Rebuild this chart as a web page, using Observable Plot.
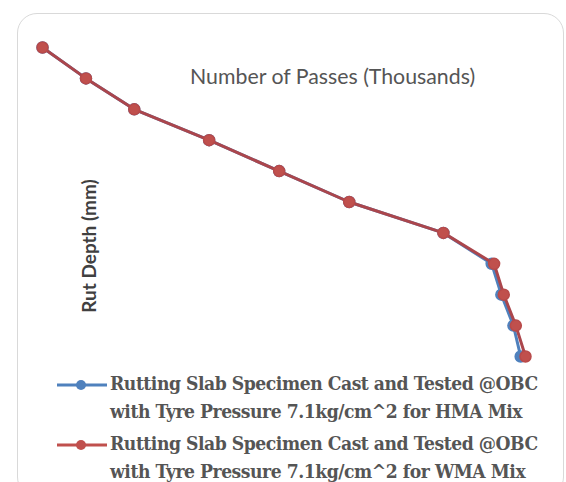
<!DOCTYPE html>
<html>
<head>
<meta charset="utf-8">
<script src="https://cdn.jsdelivr.net/npm/d3@7"></script>
<script src="https://cdn.jsdelivr.net/npm/@observablehq/plot@0.6"></script>
<style>
  html, body { margin: 0; padding: 0; background: #fff; }
  #frame { position: relative; width: 566px; height: 482px; overflow: hidden; }
  #box {
    position: absolute; left: 17px; top: 13px; width: 547px; height: 484px;
    border: 1.5px solid #d9d9d9; border-radius: 20px; box-sizing: border-box;
  }
  #chart { position: absolute; left: 0; top: 0; }
  #xtitle {
    position: absolute; left: 190px; top: 63px;
    font-family: Lato, "Open Sans", sans-serif; font-size: 21.3px; color: #555;
    white-space: nowrap;
  }
  #ytitle {
    position: absolute; left: 88px; top: 246px;
    transform: translate(-50%, -50%) rotate(-90deg);
    font-family: Lato, "Open Sans", sans-serif; font-size: 19px; font-weight: bold; color: #404040;
    white-space: nowrap;
  }
  #legend { position: absolute; left: 56px; top: 370px; }
  .item { display: flex; align-items: flex-start; margin-bottom: 4px; }
  .item svg { flex: none; margin-top: 3px; }
  .item span {
    font-family: "DejaVu Serif", "Liberation Serif", serif; font-size: 18.5px; font-weight: 600;
    color: #555; line-height: 28px; white-space: nowrap; letter-spacing: -0.5px;
    transform: scaleX(0.93); transform-origin: 0 0; display: inline-block;
  }
</style>
</head>
<body>
<div id="frame">
  <div id="box"></div>
  <div id="chart"></div>
  <div id="xtitle">Number of Passes (Thousands)</div>
  <div id="ytitle">Rut Depth (mm)</div>
  <div id="legend"></div>
</div>
<script>
// Rut depth readings (mm) and the cumulative wheel passes (thousands) at which they were reached
const rutDepth = [0, 1, 2, 3, 4, 5, 6, 7, 8, 9, 10];
const passesHMA = [0, 0.9, 1.9, 3.45, 4.9, 6.35, 8.3, 9.3, 9.5, 9.75, 9.9];
const passesWMA = [0, 0.9, 1.9, 3.45, 4.9, 6.35, 8.3, 9.35, 9.55, 9.8, 10.0];

const seriesNames = [
  ["Rutting Slab Specimen Cast and Tested @OBC", "with Tyre Pressure 7.1kg/cm^2 for HMA Mix"],
  ["Rutting Slab Specimen Cast and Tested @OBC", "with Tyre Pressure 7.1kg/cm^2 for WMA Mix"]
];
const seriesColors = ["#4f81bd", "#c0504d"];

const hma = rutDepth.map((d, i) => ({depth: d, passes: passesHMA[i]}));
const wma = rutDepth.map((d, i) => ({depth: d, passes: passesWMA[i]}));

const chart = Plot.plot({
  width: 566,
  height: 372,
  marginLeft: 42,
  marginRight: 41,
  marginTop: 47,
  marginBottom: 16,
  x: {domain: [0, 10], axis: null},
  y: {domain: [0, 10], reverse: true, axis: null},
  marks: [
    Plot.line(hma, {x: "passes", y: "depth", stroke: seriesColors[0], strokeWidth: 3}),
    Plot.dot(hma, {x: "passes", y: "depth", r: 5.5, fill: seriesColors[0], stroke: seriesColors[0]}),
    Plot.line(wma, {x: "passes", y: "depth", stroke: "#ab464c", strokeWidth: 3}),
    Plot.dot(wma, {x: "passes", y: "depth", r: 5.5, fill: seriesColors[1], stroke: "#b84a4a"})
  ]
});
document.getElementById("chart").appendChild(chart);

// legend: line-with-marker swatch followed by the two-line series name
const legend = document.getElementById("legend");
seriesNames.forEach((lines, i) => {
  const item = document.createElement("div");
  item.className = "item";
  const sw = d3.create("svg").attr("width", 54).attr("height", 24);
  sw.append("line").attr("x1", 1).attr("x2", 51).attr("y1", 12).attr("y2", 12)
    .attr("stroke", seriesColors[i]).attr("stroke-width", 3);
  sw.append("circle").attr("cx", 25).attr("cy", 12).attr("r", 5).attr("fill", seriesColors[i]);
  item.appendChild(sw.node());
  const text = document.createElement("span");
  text.innerHTML = lines.join("<br>");
  item.appendChild(text);
  legend.appendChild(item);
});
</script>
</body>
</html>
